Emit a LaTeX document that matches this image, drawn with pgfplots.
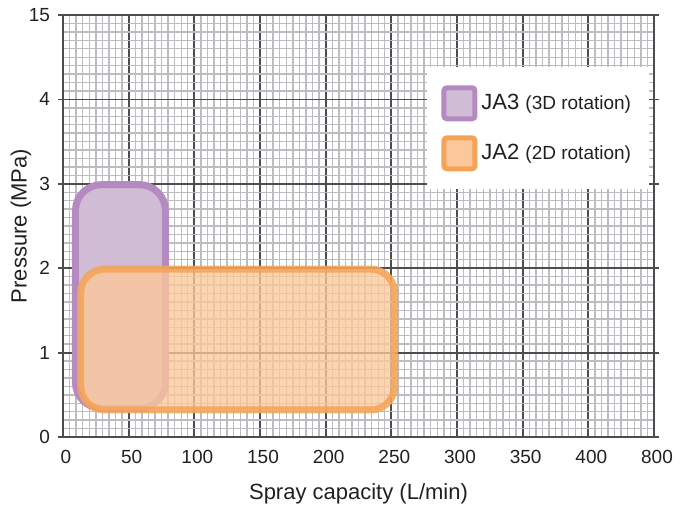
\documentclass[border=0pt]{standalone}
\usepackage{fontspec}
\setmainfont{Liberation Sans}
\usepackage{pgfplots}
\pgfplotsset{compat=1.18}
\definecolor{txt}{HTML}{231F20}
\definecolor{majgrid}{HTML}{4D4D4F}
\definecolor{mingrid}{HTML}{BDBDC1}
\definecolor{jathree}{HTML}{B48AC0}
\definecolor{jathreefill}{HTML}{D0BCD5}
\definecolor{jatwo}{HTML}{F5A457}
\definecolor{jatwofill}{HTML}{FCC89A}
\begin{document}
\begin{tikzpicture}
\begin{axis}[
  at={(0,0)}, anchor=origin,
  scale only axis,
  width=295.5pt, height=211pt,
  xmin=0, xmax=450, ymin=0, ymax=5,
  xtick={0,50,...,450},
  xticklabels={0,50,100,150,200,250,300,350,400,800},
  ytick={0,1,2,3,4,5},
  yticklabels={0,1,2,3,4,15},
  minor x tick num=9,
  minor y tick num=9,
  grid=both,
  major grid style={majgrid, line width=0.9pt},
  minor grid style={mingrid, line width=0.7pt},
  axis line style={majgrid, line width=1pt},
  xtick style={draw=none},
  minor tick style={draw=none},
  ytick style={majgrid, line width=0.9pt},
  tick align=outside,
  major tick length=2.5pt,
  ticklabel style={font=\fontsize{9.5}{11}\selectfont, text=txt},
  /pgf/number format/assume math mode=true,
  xticklabel style={yshift=-0.5pt, xshift=1.5pt},
  yticklabel style={xshift=-0.5pt},
  xlabel={Spray capacity (L/min)},
  ylabel={Pressure (MPa)},
  label style={font=\fontsize{11}{13}\selectfont, text=txt},
  xlabel style={yshift=-3pt},
  ylabel style={yshift=-8pt},
  legend style={at={(0.616,0.877)}, anchor=north west, draw=none, fill=white,
    inner xsep=7pt, inner ysep=9pt, row sep=7pt,
    font=\fontsize{11}{13}\selectfont, text=txt},
  legend cell align=left,
  legend image code/.code={
    \draw[#1, line width=2.5pt, rounded corners=1.5pt, fill opacity=1, draw opacity=1]
      (0pt,-7.75pt) rectangle (15.5pt,7.75pt);
  },
]
% JA3 (3D rotation)
\addplot[draw=jathree, fill=jathreefill, line width=3.5pt, rounded corners=13pt]
  coordinates {(9.5,0.34) (78,0.34) (78,2.99) (9.5,2.99)} -- cycle;
\addlegendentry{JA3 {\fontsize{9.5}{11}\selectfont (3D rotation)}}
% JA2 (2D rotation)
\addplot[draw=jatwo, fill=jatwofill, line width=3.5pt, rounded corners=12pt,
  fill opacity=0.78, draw opacity=0.88]
  coordinates {(13.5,0.32) (252.5,0.32) (252.5,1.99) (13.5,1.99)} -- cycle;
\addlegendentry{JA2 {\fontsize{9.5}{11}\selectfont (2D rotation)}}
\end{axis}
\pgfresetboundingbox
\useasboundingbox (-31.5pt,-33.5pt) rectangle (310.5pt,218.5pt);
\end{tikzpicture}
\end{document}
